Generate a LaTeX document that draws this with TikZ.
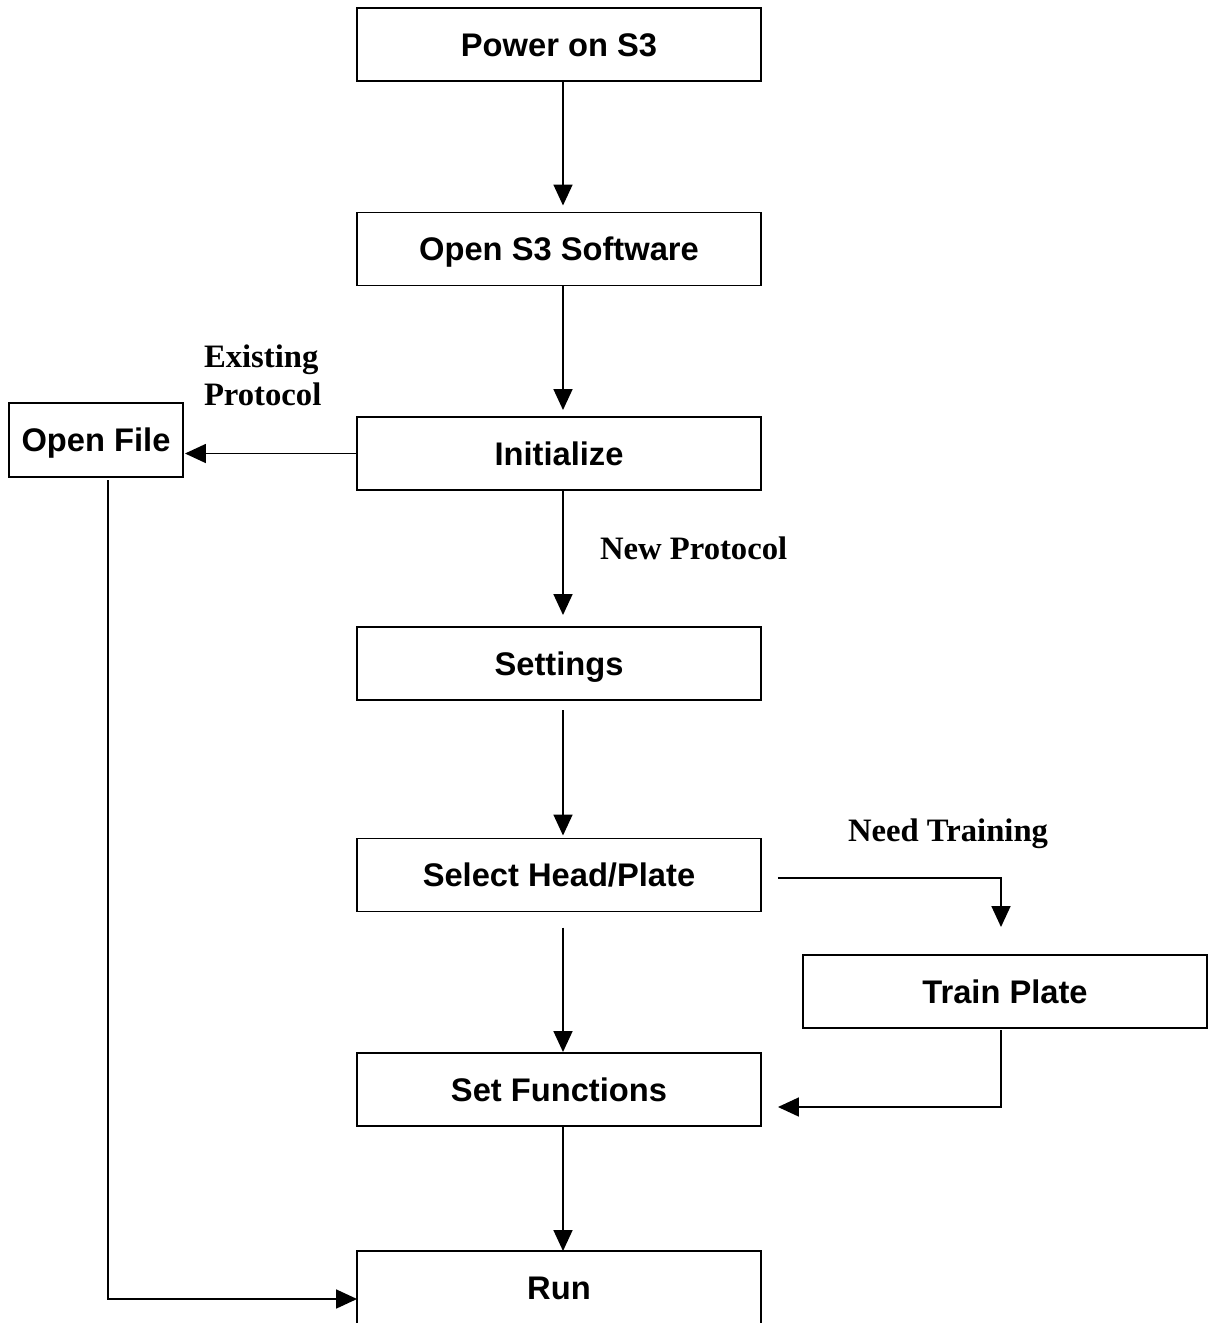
\documentclass[tikz,border=0pt]{standalone}
\usepackage{fontspec}
\setmainfont{Liberation Serif}
\newfontfamily\boxfont{Liberation Sans}
\usetikzlibrary{calc,arrows.meta}

\begin{document}
\begin{tikzpicture}[x=0.02cm,y=-0.02cm,every node/.style={outer sep=0pt,inner sep=0pt}]
\tikzstyle{stepbox}=[draw,line width=1.1pt,minimum width=8.08cm,minimum height=1.46cm,text height=13.3pt,text depth=0pt,font=\boxfont\bfseries\fontsize{18.6}{22}\selectfont]
\tikzstyle{flow}=[line width=1pt,-{Triangle[length=0.42cm,width=0.38cm]}]
\tikzstyle{branch}=[font=\bfseries\fontsize{18.6}{21.5}\selectfont,align=left,anchor=west]

\useasboundingbox (0,0) rectangle (1211,1323);

\node (PowerOn) [stepbox] at (559,44.5) {Power on S3};
\node (OpenSoft) [stepbox] at (559,249) {Open S3 Software};
\node (Init) [stepbox] at (559,453.5) {Initialize};
\node (Settings) [stepbox] at (559,663.5) {Settings};
\node (SelHead) [stepbox] at (559,875) {Select Head/Plate};
\node (SetFunc) [stepbox] at (559,1089.5) {Set Functions};
\node (Run) [stepbox] at (559,1287.5) {Run};

\node (OpenFile) [stepbox,minimum width=3.48cm,minimum height=1.48cm] at (96,440) {Open File};
\node (TrainPlate) [stepbox] at (1005,991.5) {Train Plate};

%main column
\draw [flow,shorten >=7*0.02cm] ($(PowerOn.south)+(4,0)$) -- ($(OpenSoft.north)+(4,0)$);
\draw [flow,shorten >=7*0.02cm] ($(OpenSoft.south)+(4,0)$) -- ($(Init.north)+(4,0)$);
\draw [flow,shorten >=12*0.02cm] ($(Init.south)+(4,0)$) -- ($(Settings.north)+(4,0)$);
\draw [flow,shorten <=10*0.02cm,shorten >=3*0.02cm] ($(Settings.south)+(4,0)$) -- ($(SelHead.north)+(4,0)$);
\draw [flow,shorten <=16*0.02cm,shorten >=1*0.02cm] ($(SelHead.south)+(4,0)$) -- ($(SetFunc.north)+(4,0)$);
\draw [flow] ($(SetFunc.south)+(4,0)$) -- ($(Run.north)+(4,0)$);

%existing protocol
\draw [flow,shorten >=2*0.02cm] (Init.west) -- (Init.west -| OpenFile.east);
\draw [flow] ($(OpenFile.south)+(12,3)$) |- ($(Run.west)+(0,11.5)$);

%training
\draw [flow] ($(SelHead.east)+(17,3)$) -| ($(TrainPlate.north)+(-4,-28)$);
\draw [flow] ($(TrainPlate.south)+(-4,2)$) |- ($(SetFunc.east)+(17,17.5)$);

\node (lblExist) [branch] at (204,375) {Existing\\Protocol};
\node (lblNew) [branch] at (600,548) {New Protocol};
\node (lblTrain) [branch] at (848,834) {Need Training};
\end{tikzpicture}
\end{document}
